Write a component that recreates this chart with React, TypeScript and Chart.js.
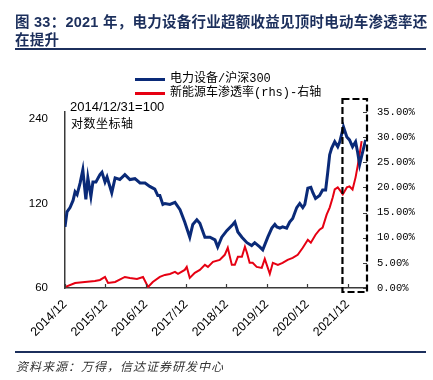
import React, { useEffect, useRef } from "react";
import { Chart, registerables } from "chart.js";

Chart.register(...registerables);

const TITLE_LINE1 = "图 33：2021 年，电力设备行业超额收益见顶时电动车渗透率还";
const TITLE_LINE2 = "在提升";
const SOURCE_TEXT = "资料来源：万得，信达证券研发中心";
const BLUE_NAME = "电力设备/沪深300";
const RED_NAME = "新能源车渗透率(rhs)-右轴";
const NOTE_BASE = "2014/12/31=100";
const NOTE_LOG = "对数坐标轴";

// x axis: months since 2014/12
const X_TICK_LABELS = ["2014/12", "2015/12", "2016/12", "2017/12", "2018/12", "2019/12", "2020/12", "2021/12"];
const X_MAX = 89.5;
const HIGHLIGHT_FROM = 82.5;
const LEFT_TICKS = [60, 120, 240];
const LEFT_MIN = 60;
const LEFT_MAX = 254;
const RIGHT_TICKS = [0, 5, 10, 15, 20, 25, 30, 35];

const blueMonths = [
  0, 0.6, 1.5, 2.4, 3.0, 3.6, 4.5, 5.3, 6.2, 6.8,
  7.7, 8.3, 9.2, 10.4, 11.0, 11.9, 12.5, 13.9, 14.9, 16.3,
  17.8, 19.3, 20.8, 22.3, 23.8, 25.2, 26.7, 27.6, 28.2, 29.1,
  29.7, 31.2, 32.7, 34.2, 35.6, 37.1, 38.0, 39.2, 40.1, 41.6,
  43.1, 44.6, 45.4, 46.6, 48.1, 49.9, 50.5, 51.4, 52.6, 54.1,
  55.5, 56.4, 57.9, 58.8, 60.3, 61.5, 62.4, 63.0, 63.9, 64.7,
  65.9, 66.8, 67.7, 68.9, 69.8, 70.7, 71.3, 72.2, 73.1, 73.7,
  74.5, 75.7, 76.6, 77.5, 78.1, 78.7, 79.3, 80.2, 81.1, 81.7,
  82.8, 83.8, 84.6, 85.5, 86.4, 87.0, 87.6, 88.5, 89.4,
];
const blueValues = [
  99, 112, 116, 123, 132, 129, 142, 158, 124, 148,
  127, 143, 143, 152, 155, 143, 149, 131, 148, 146,
  152, 146, 147, 142, 142, 138, 135, 128, 128, 119,
  120, 119, 121, 114, 103, 91, 101, 105, 102, 91,
  91, 89, 84, 91, 96, 101, 103, 95, 91, 87,
  85, 87, 84, 82, 91, 98, 101, 99, 98, 99,
  98, 103, 106, 116, 120, 116, 119, 136, 137, 131,
  125, 128, 134, 134, 154, 179, 189, 199, 191, 199,
  225, 207, 202, 191, 199, 183, 165, 183, 202,
];

const redMonths = [
  0, 3.0, 5.9, 8.9, 10.4, 11.9, 12.8, 14.9, 17.8, 19.3,
  21.4, 23.2, 24.7, 26.1, 28.2, 29.7, 31.2, 32.7, 33.6, 35.6,
  36.2, 37.1, 38.6, 40.1, 41.6, 42.5, 44.0, 46.0, 47.5, 48.4,
  49.6, 50.5, 51.4, 52.6, 53.5, 54.1, 54.9, 55.8, 57.0, 58.5,
  59.4, 60.9, 61.8, 63.3, 64.7, 66.2, 67.7, 69.2, 70.7, 72.2,
  73.1, 74.5, 75.7, 76.6, 77.8, 78.7, 79.6, 80.2, 81.1, 82.0,
  82.6, 83.8, 84.6, 85.5, 86.4, 87.0, 87.6, 88.2,
];
const redValues = [
  0.2, 1.0, 1.2, 1.4, 1.6, 2.2, 1.0, 1.2, 2.2, 2.0,
  1.8, 2.2, 0.2, 1.2, 2.2, 2.6, 2.8, 3.2, 2.8, 3.6,
  4.2, 2.0, 3.0, 3.6, 4.6, 4.2, 5.2, 5.6, 6.6, 8.0,
  4.6, 4.6, 6.2, 6.2, 8.2, 7.0, 5.0, 5.0, 4.2, 4.0,
  5.8, 2.8, 5.0, 4.6, 5.0, 5.6, 6.0, 6.6, 8.0, 9.6,
  9.0, 10.6, 11.6, 12.0, 14.6, 16.0, 18.0, 19.6, 20.0, 19.2,
  18.6, 20.0, 20.2, 19.6, 22.0, 24.2, 26.6, 29.2,
];

const BLUE = "#0a2a78";
const RED = "#e60012";
const AXIS = "#3a3a3a";
const NAVY = "#1c2f5c";

const decorPlugin = {
  id: "decor",
  afterDatasetsDraw(chart: any) {
    const { ctx, chartArea, scales } = chart;
    const x = scales.x;
    const yR = scales.yR;
    ctx.save();
    ctx.strokeStyle = AXIS;
    ctx.lineWidth = 1.2;
    ctx.beginPath();
    x.ticks.forEach((t: any) => {
      const px = Math.round(x.getPixelForValue(t.value)) + 0.5;
      ctx.moveTo(px, chartArea.bottom);
      ctx.lineTo(px, chartArea.bottom - 4);
    });
    yR.ticks.forEach((t: any) => {
      const py = Math.round(yR.getPixelForValue(t.value)) + 0.5;
      ctx.moveTo(chartArea.right - 3, py);
      ctx.lineTo(chartArea.right + 1, py);
    });
    ctx.stroke();
    // highlight box
    const x0 = x.getPixelForValue(HIGHLIGHT_FROM);
    const x1 = chartArea.right + 1;
    ctx.setLineDash([7, 3]);
    ctx.lineWidth = 2.2;
    ctx.strokeStyle = "#000";
    ctx.strokeRect(x0, chartArea.top - 13, x1 - x0, chartArea.bottom - chartArea.top + 17);
    ctx.restore();
  },
};

export default function App() {
  const ref = useRef<HTMLCanvasElement | null>(null);

  useEffect(() => {
    if (!ref.current) return;
    const chart = new Chart(ref.current, {
      type: "line",
      data: {
        datasets: [
          {
            label: BLUE_NAME,
            data: blueMonths.map((m, i) => ({ x: m, y: blueValues[i] })),
            yAxisID: "yL",
            borderColor: BLUE,
            borderWidth: 3,
            pointRadius: 0,
            tension: 0,
            order: 1,
          },
          {
            label: RED_NAME,
            data: redMonths.map((m, i) => ({ x: m, y: redValues[i] })),
            yAxisID: "yR",
            borderColor: RED,
            borderWidth: 2,
            pointRadius: 0,
            tension: 0,
            order: 2,
          },
        ],
      },
      options: {
        responsive: false,
        animation: false,
        devicePixelRatio: 1,
        layout: { padding: { top: 112, left: 0, right: 0, bottom: 0 } },
        plugins: { legend: { display: false }, tooltip: { enabled: false } },
        scales: {
          x: {
            type: "linear",
            min: 0,
            max: X_MAX,
            afterBuildTicks: (s: any) => {
              s.ticks = X_TICK_LABELS.map((_, i) => ({ value: i * 12 }));
            },
            ticks: {
              autoSkip: false,
              maxRotation: 45,
              minRotation: 45,
              padding: 9,
              color: "#000",
              font: { family: "'Liberation Sans', Arial", size: 12.5 },
              callback: (v: any) => X_TICK_LABELS[Math.round(Number(v) / 12)] ?? "",
            },
            grid: { display: false, drawTicks: false },
            border: { display: true, color: AXIS, width: 1.5 },
            afterFit: (s: any) => {
              s.height = 92;
            },
          },
          yL: {
            type: "logarithmic",
            position: "left",
            min: LEFT_MIN,
            max: LEFT_MAX,
            afterBuildTicks: (s: any) => {
              s.ticks = LEFT_TICKS.map((v) => ({ value: v }));
            },
            ticks: {
              padding: 17,
              color: "#000",
              font: { family: "'Liberation Sans', Arial", size: 11.5 },
              callback: (v: any) => String(v),
            },
            grid: { display: false, drawTicks: false },
            border: { display: true, color: AXIS, width: 1.5 },
            afterFit: (s: any) => {
              s.width = 65;
            },
          },
          yR: {
            type: "linear",
            position: "right",
            min: 0,
            max: 35,
            afterBuildTicks: (s: any) => {
              s.ticks = RIGHT_TICKS.map((v) => ({ value: v }));
            },
            ticks: {
              padding: 11,
              color: "#000",
              font: { family: "'Liberation Mono', monospace", size: 10.5 },
              callback: (v: any) => Number(v).toFixed(2) + "%",
            },
            grid: { display: false, drawTicks: false },
            border: { display: false },
            afterFit: (s: any) => {
              s.width = 67;
            },
          },
        },
      } as any,
      plugins: [decorPlugin],
    });
    return () => chart.destroy();
  }, []);

  const cjk = "'Liberation Sans', 'Noto Sans CJK SC', sans-serif";
  const monoCjk = "'Liberation Mono', 'Noto Sans CJK SC', monospace";

  return (
    <div
      style={{
        position: "absolute",
        left: 0,
        top: 0,
        width: 433,
        height: 380,
        background: "#fff",
        overflow: "hidden",
      }}
    >
      <canvas ref={ref} width={433} height={380} style={{ position: "absolute", left: 0, top: 0, width: 433, height: 380 }} />
      <div style={{ position: "absolute", left: 15, top: 13, fontFamily: cjk, fontWeight: 700, fontSize: 14.5, letterSpacing: 0.25, lineHeight: "18px", color: NAVY, whiteSpace: "nowrap" }}>
        {TITLE_LINE1}
      </div>
      <div style={{ position: "absolute", left: 15, top: 31, fontFamily: cjk, fontWeight: 700, fontSize: 14.5, letterSpacing: 0.25, lineHeight: "18px", color: NAVY, whiteSpace: "nowrap" }}>
        {TITLE_LINE2}
      </div>
      <div style={{ position: "absolute", left: 15, top: 48, width: 411, height: 2, background: NAVY }} />
      <div style={{ position: "absolute", left: 135, top: 78, width: 30, height: 2.5, background: BLUE }} />
      <div style={{ position: "absolute", left: 170, top: 71, fontFamily: monoCjk, fontSize: 12, lineHeight: "16px", color: "#000", whiteSpace: "nowrap" }}>
        {BLUE_NAME}
      </div>
      <div style={{ position: "absolute", left: 135, top: 92, width: 30, height: 2.5, background: RED }} />
      <div style={{ position: "absolute", left: 170, top: 85, fontFamily: monoCjk, fontSize: 12, lineHeight: "16px", color: "#000", whiteSpace: "nowrap" }}>
        {RED_NAME}
      </div>
      <div style={{ position: "absolute", left: 70, top: 99, fontFamily: "'Liberation Sans', Arial", fontSize: 13, lineHeight: "16px", color: "#000", whiteSpace: "nowrap" }}>
        {NOTE_BASE}
      </div>
      <div style={{ position: "absolute", left: 71, top: 116, fontFamily: cjk, fontSize: 12, letterSpacing: 0.5, lineHeight: "16px", color: "#000", whiteSpace: "nowrap" }}>
        {NOTE_LOG}
      </div>
      <div style={{ position: "absolute", left: 15, top: 351, width: 411, height: 1.5, background: NAVY }} />
      <div style={{ position: "absolute", left: 16, top: 359, fontFamily: cjk, fontStyle: "italic", fontSize: 12, letterSpacing: 1, lineHeight: "16px", color: "#333", whiteSpace: "nowrap" }}>
        {SOURCE_TEXT}
      </div>
    </div>
  );
}
